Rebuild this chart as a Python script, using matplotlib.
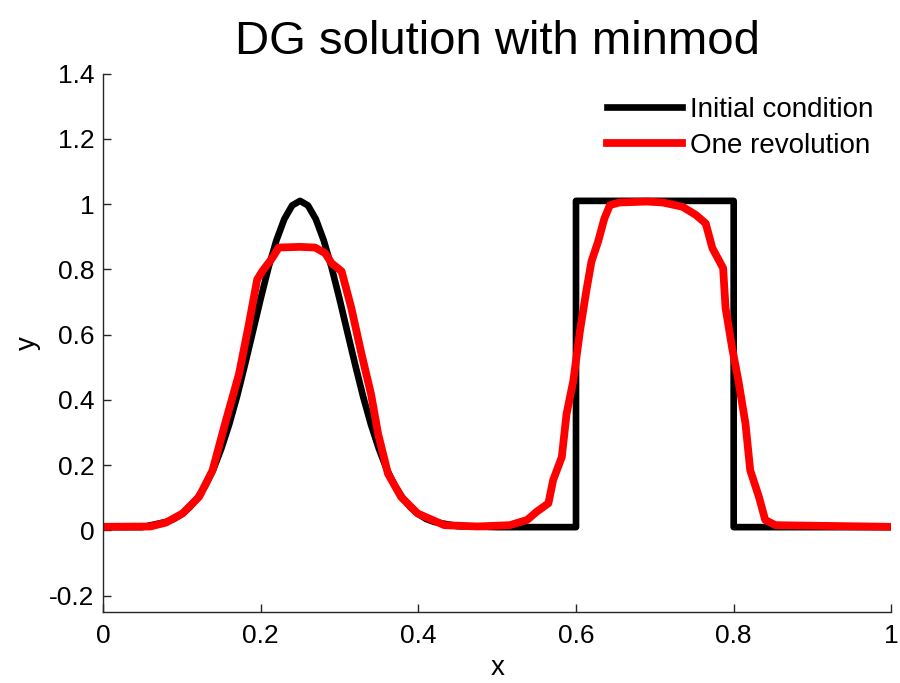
import matplotlib
matplotlib.use("Agg")
import matplotlib.pyplot as plt

plt.rcParams["font.family"] = ["Liberation Sans", "DejaVu Sans"]

# Condition initiale : bosse gaussienne centrée en 0.25 puis créneau sur [0.6, 0.8]
x_initial = [0.00, 0.05, 0.08, 0.09, 0.10, 0.11, 0.12, 0.13, 0.14, 0.15, 0.16,
             0.17, 0.18, 0.19, 0.20, 0.21, 0.22, 0.23, 0.24, 0.25, 0.26, 0.27,
             0.28, 0.29, 0.30, 0.31, 0.32, 0.33, 0.34, 0.35, 0.36, 0.37, 0.38,
             0.39, 0.40, 0.41, 0.42, 0.45, 0.50, 0.60, 0.60, 0.80, 0.80, 1.00]
y_initial = [0.010, 0.010, 0.026, 0.035, 0.050, 0.071, 0.100, 0.138, 0.187, 0.250,
             0.324, 0.410, 0.507, 0.608, 0.710, 0.806, 0.889, 0.954, 0.996, 1.010,
             0.996, 0.954, 0.889, 0.806, 0.710, 0.608, 0.507, 0.410, 0.324, 0.250,
             0.187, 0.138, 0.100, 0.071, 0.050, 0.035, 0.026, 0.013, 0.010, 0.010,
             1.010, 1.010, 0.010, 0.010]

# Solution DG après une révolution (limiteur minmod)
x_revolution = [0.000, 0.060, 0.080, 0.101, 0.122, 0.139, 0.156, 0.1725, 0.185,
                0.1956, 0.202, 0.2145, 0.223, 0.250, 0.269, 0.2817, 0.290, 0.3027,
                0.315, 0.328, 0.340, 0.349, 0.3615, 0.378, 0.399, 0.433, 0.475,
                0.516, 0.538, 0.550, 0.565, 0.571, 0.582, 0.588, 0.5966, 0.605,
                0.613, 0.6196, 0.628, 0.636, 0.643, 0.655, 0.690, 0.710, 0.735,
                0.752, 0.7645, 0.773, 0.7866, 0.7897, 0.798, 0.806, 0.815, 0.821,
                0.832, 0.840, 0.853, 1.000]
y_revolution = [0.011, 0.012, 0.024, 0.052, 0.103, 0.184, 0.337, 0.479, 0.631,
                0.769, 0.794, 0.834, 0.867, 0.869, 0.867, 0.850, 0.819, 0.794,
                0.682, 0.540, 0.418, 0.296, 0.174, 0.103, 0.052, 0.016, 0.012,
                0.016, 0.032, 0.057, 0.083, 0.154, 0.225, 0.357, 0.4585, 0.611,
                0.733, 0.824, 0.885, 0.956, 0.997, 1.005, 1.008, 1.005, 0.992,
                0.967, 0.941, 0.865, 0.804, 0.682, 0.560, 0.4585, 0.3265, 0.184,
                0.103, 0.032, 0.016, 0.011]

x_ticks = [0, 0.2, 0.4, 0.6, 0.8, 1]
y_ticks = [-0.2, 0, 0.2, 0.4, 0.6, 0.8, 1, 1.2, 1.4]
y_tick_labels = ["-0.2", "0", "0.2", "0.4", "0.6", "0.8", "1", "1.2", "1.4"]

fig = plt.figure(figsize=(9, 6.83), dpi=100)
ax = fig.add_axes([0.1144, 0.104, 0.8760, 0.7882])

ax.plot(x_initial, y_initial, color="black", linewidth=4.8, label="Initial condition",
        solid_joinstyle="round")
ax.plot(x_revolution, y_revolution, color="#ff0000", linewidth=5.6, label="One revolution",
        solid_joinstyle="round")

ax.set_xlim(0, 1)
ax.set_ylim(-0.25, 1.4)
ax.set_xticks(x_ticks)
ax.set_xticklabels([f"{t:g}" for t in x_ticks])
ax.set_yticks(y_ticks)
ax.set_yticklabels(y_tick_labels)

ax.spines["top"].set_visible(False)
ax.spines["right"].set_visible(False)
for cote in ("left", "bottom"):
    ax.spines[cote].set_color("#262626")
    ax.spines[cote].set_linewidth(1.0)
ax.tick_params(direction="in", length=6, width=1.0, color="#262626",
               labelsize=19, labelcolor="black")
ax.tick_params(axis="x", pad=9)
ax.tick_params(axis="y", pad=6)

ax.set_xlabel("x", fontsize=20, labelpad=5)
ax.set_ylabel("y", fontsize=20, labelpad=6)
ax.set_title("DG solution with minmod", fontsize=34, pad=14)

ax.legend(loc="upper left", bbox_to_anchor=(607 / 900, 1 - 97 / 683),
          bbox_transform=fig.transFigure, frameon=False, fontsize=20,
          handlelength=2.7, handletextpad=0.3, labelspacing=0.36,
          borderpad=0, borderaxespad=0)

fig.savefig("out.png", dpi=100)
